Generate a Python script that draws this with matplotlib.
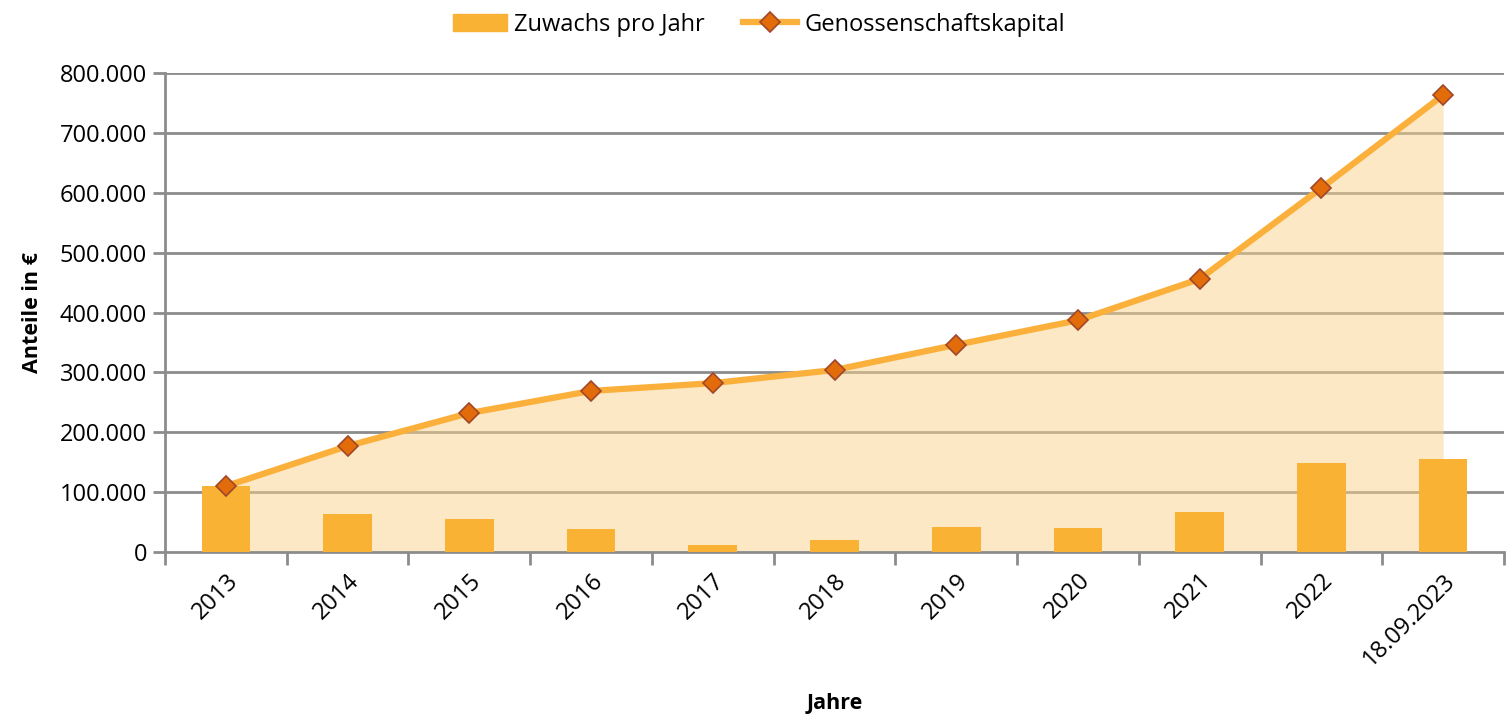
import matplotlib
matplotlib.use("Agg")
import matplotlib.pyplot as plt
from matplotlib.ticker import FuncFormatter
from matplotlib.lines import Line2D
from matplotlib.patches import Patch
import numpy as np

categories = ["2013", "2014", "2015", "2016", "2017", "2018", "2019", "2020", "2021", "2022", "18.09.2023"]
zuwachs = [110000, 63000, 55000, 38000, 12000, 20000, 42000, 40000, 67000, 149000, 155000]
kapital = [110000, 177000, 232000, 269000, 282000, 304000, 346000, 387000, 456000, 608000, 763000]
yticks = [0, 100000, 200000, 300000, 400000, 500000, 600000, 700000, 800000]

plt.rcParams['font.family'] = ['Open Sans', 'DejaVu Sans']

fig = plt.figure(figsize=(15.09, 7.16), dpi=100)
ax = fig.add_axes([165/1509, 1-552/716, (1504-165)/1509, (552-73)/716])

x = np.arange(len(categories))
grid_c = "#8c8c8c"
for t in yticks[1:]:
    ax.axhline(t, color=grid_c, lw=2, zorder=1)

ax.fill_between(x, kapital, 0, color="#fbd38a", alpha=0.5, lw=0, zorder=2)
ax.bar(x, zuwachs, width=0.4, color="#f9b233", zorder=3)
ax.plot(x, kapital, color="#fbb03b", lw=4.5, zorder=4, marker="D", ms=10,
        mfc="#e36c0a", mec="#a0472a", mew=1.2)

ax.set_xlim(-0.5, len(categories) - 0.5)
ax.set_ylim(0, 800000)
ax.set_yticks(yticks)
ax.yaxis.set_major_formatter(FuncFormatter(lambda v, p: "0" if v == 0 else f"{int(v):,}".replace(",", ".")))
ax.set_xticks(x)
ax.set_xticklabels(categories, rotation=45, ha="right", rotation_mode="anchor", fontsize=17)
ax.tick_params(axis="x", length=0, pad=12)
ax.set_xticks(np.arange(-0.5, len(categories)), minor=True)
ax.tick_params(axis="x", which="minor", length=9, width=2, color=grid_c, direction="out")
ax.tick_params(axis="y", length=9, width=2, color=grid_c, labelsize=17, pad=4)

for s in ["top", "right"]:
    ax.spines[s].set_visible(False)
for s in ["left", "bottom"]:
    ax.spines[s].set_color(grid_c)
    ax.spines[s].set_linewidth(2)

ax.set_ylabel("Anteile in €", fontsize=15.5, fontweight="bold", labelpad=12)
ax.set_xlabel("Jahre", fontsize=15.5, fontweight="bold", labelpad=16)

handles = [Patch(color="#f9b233", label="Zuwachs pro Jahr"),
           Line2D([0], [0], color="#fbb03b", lw=4.5, marker="D", ms=10, mfc="#e36c0a",
                  mec="#a0472a", mew=1.2, label="Genossenschaftskapital")]
fig.legend(handles=handles, loc="upper center", bbox_to_anchor=(0.503, 1.012), ncol=2,
           frameon=False, fontsize=17, handlelength=2.3, columnspacing=1.6, handletextpad=0.3)

fig.savefig("out.png", dpi=100)
